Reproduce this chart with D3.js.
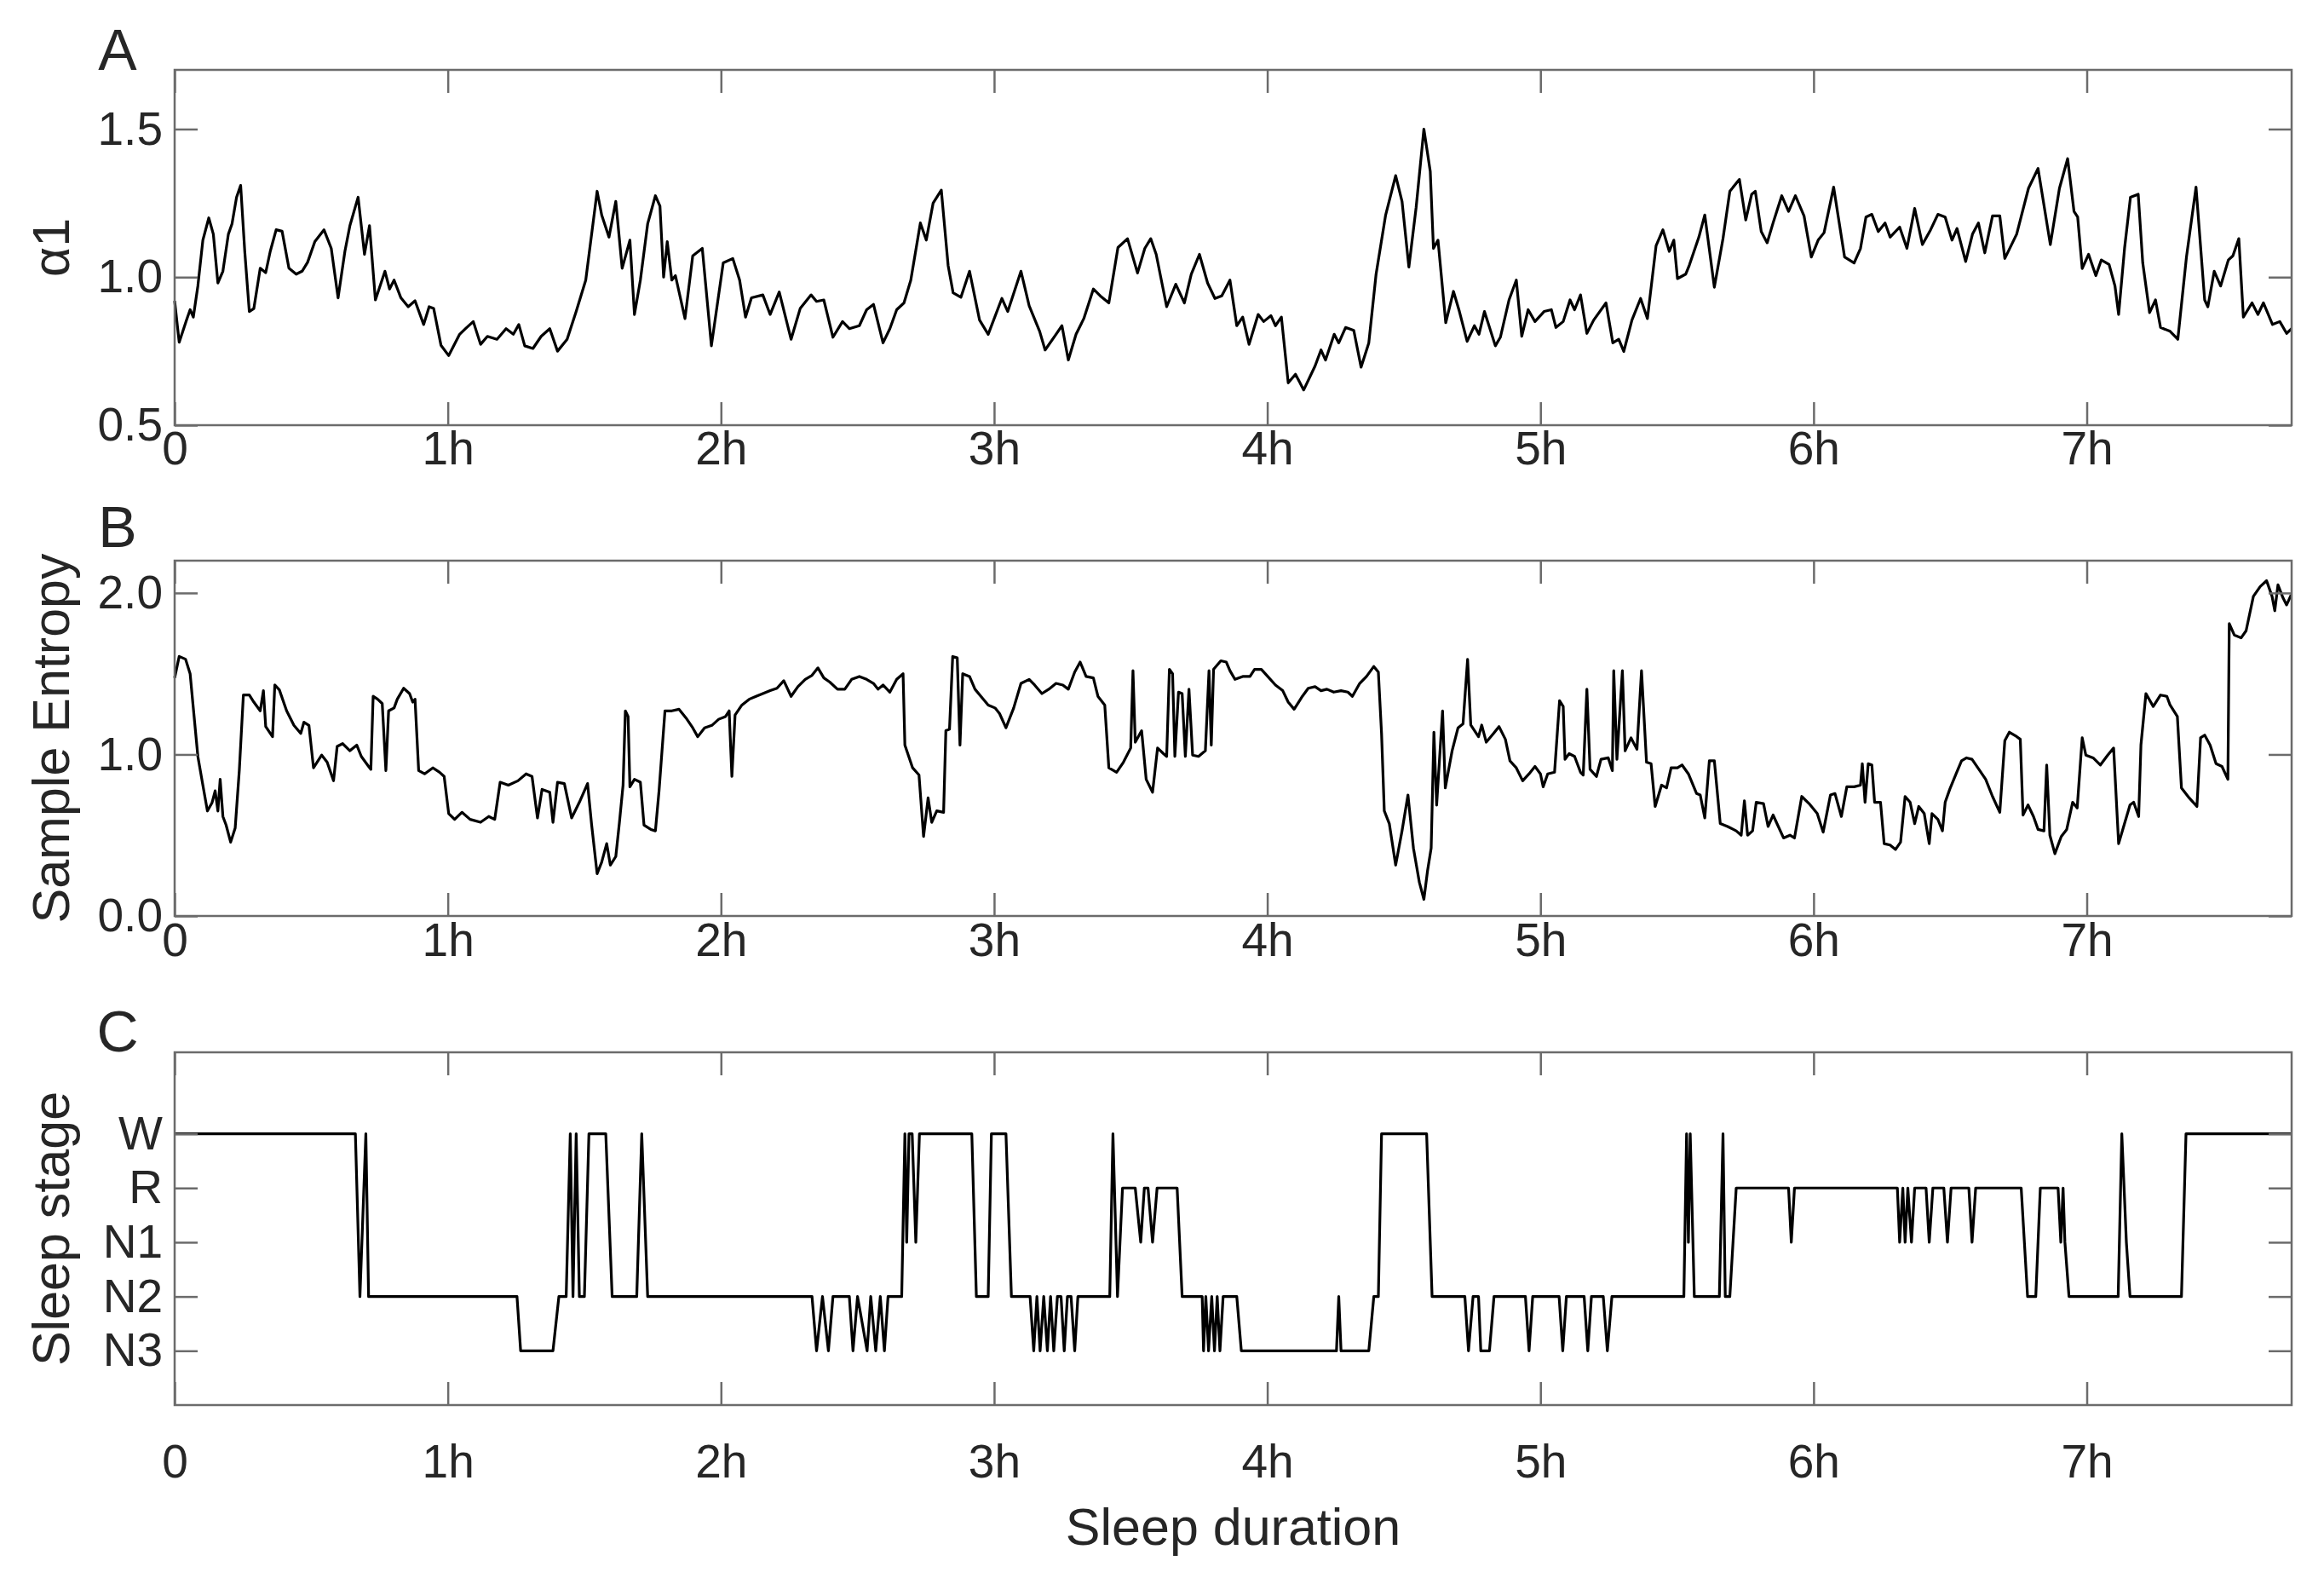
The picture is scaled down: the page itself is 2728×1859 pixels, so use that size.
<!DOCTYPE html>
<html>
<head>
<meta charset="utf-8">
<script src="https://cdn.jsdelivr.net/npm/d3@7"></script>
<style>
  body { margin: 0; background: #fff; }
  svg { display: block; }
  text { font-family: "Liberation Sans", Arial, Helvetica, sans-serif; fill: #262626; }
</style>
</head>
<body>
<svg id="chart" width="2728" height="1859"></svg>
<script>
// ---------------- DATA ----------------
const hourTicks = [0, 60, 120, 180, 240, 300, 360, 420];           // minutes
const hourLabels = ["0", "1h", "2h", "3h", "4h", "5h", "6h", "7h"];
const alphaTicks = [0.5, 1.0, 1.5];
const entropyTicks = [0.0, 1.0, 2.0];
const stageLevels = [1, 2, 3, 4, 5];
const stageNames = ["N3", "N2", "N1", "R", "W"];

// Panel A: DFA alpha1 (time in minutes, value)
const alphaTime = [0,1,2.6,3.4,4.1,5.1,6.2,7.5,8.5,9.5,10.6,11.8,12.6,13.6,14.5,15.4,16.4,17.4,18.8,20,21,22.3,23.6,25.1,26.7,28,29.2,30.8,32.8,34.4,35.9,37.4,38.5,40.3,41.7,42.8,44.1,46.2,47.2,48.2,49.7,51.3,52.8,54.7,55.9,56.9,58.5,60.2,62.6,63.9,65.6,67.2,68.7,70.8,72.8,74.4,75.6,76.9,78.7,80.5,82.4,84.1,86.2,88.2,90.3,92.8,93.8,95.4,96.9,98.3,100,101,102.3,103.9,105.6,106.6,107.4,108.2,109.2,110,112.1,113.8,115.9,117.9,120.5,122.6,124.1,125.4,126.7,129.2,130.8,132.8,135.4,137.4,139.8,141,142.6,144.6,146.7,148.2,150.4,152,153.5,155.6,157.1,158.6,160.2,161.7,163.8,165.1,166.6,168.4,169.9,171,172.7,174.6,176.8,178.7,181.7,183,185.9,187.7,190,191.2,193.6,194.9,196.3,198,199.7,201.8,203.3,205.2,207.2,209.3,211.5,213.1,214.4,215.6,217.9,219.9,221.8,223.3,225.1,226.9,228.5,230,231.8,233.3,234.6,236,238,239.2,240.8,241.8,243.1,244.6,246.2,248,250.5,251.8,252.8,254.7,255.7,257.2,259,260.6,262.3,263.9,266,268.2,269.6,271.1,272.7,274.4,275.8,276.5,277.5,279.2,280.9,282.2,283.9,285.5,286.5,287.7,290.1,291.2,293.1,294.7,295.9,297.3,298.8,300.8,302.4,303.4,305,306.5,307.5,308.8,310.2,311.7,314.4,315.9,317.2,318.3,320.1,322,323.5,325.4,326.9,328.3,329.3,330.1,331.9,332.7,334.8,336.1,338.2,340.1,341.6,343.7,345.1,346.4,347.2,348.5,349.8,351.1,353,354.5,356,357.9,359.5,361,362.3,364.4,366.8,368.9,370.3,371.5,372.8,374.2,375.7,376.8,378.9,380.5,382.2,383.9,385.7,387.3,388.9,390.4,391.5,393.4,394.9,396.2,397.6,399.3,400.9,402,404.6,407.2,409.3,412,414,415.8,417.2,418,419,420.4,422,423.2,424.9,426.2,427,428.3,429.6,431.3,432.3,433.8,435.1,436.2,438.3,440,441.9,444,445.9,446.6,448,449.4,451.1,452.1,453.4,454.4,456.3,457.6,458.8,460.8,462.4,463.9,465];
const alphaValues = [0.92,0.78,0.855,0.89,0.865,0.97,1.125,1.2,1.145,0.98,1.02,1.145,1.18,1.27,1.31,1.087,0.884,0.894,1.03,1.015,1.087,1.16,1.155,1.03,1.01,1.02,1.05,1.12,1.16,1.097,0.93,1.087,1.174,1.27,1.077,1.174,0.923,1.02,0.96,0.99,0.93,0.9,0.92,0.84,0.9,0.894,0.77,0.735,0.807,0.826,0.85,0.773,0.8,0.79,0.826,0.807,0.84,0.768,0.759,0.8,0.826,0.75,0.79,0.884,0.99,1.29,1.21,1.135,1.256,1.03,1.125,0.874,0.99,1.18,1.275,1.24,1.0,1.12,0.99,1.005,0.86,1.072,1.097,0.768,1.048,1.063,0.99,0.865,0.93,0.94,0.874,0.95,0.79,0.894,0.94,0.918,0.923,0.797,0.85,0.826,0.836,0.89,0.908,0.778,0.826,0.89,0.913,0.99,1.183,1.125,1.25,1.294,1.039,0.947,0.932,1.02,0.855,0.807,0.928,0.884,1.02,0.903,0.817,0.754,0.807,0.836,0.72,0.807,0.86,0.96,0.937,0.913,1.1,1.13,1.014,1.097,1.13,1.077,0.9,0.976,0.913,1.01,1.077,0.98,0.928,0.937,0.99,0.836,0.865,0.773,0.874,0.85,0.87,0.836,0.865,0.643,0.672,0.619,0.7,0.754,0.72,0.807,0.778,0.83,0.82,0.696,0.778,1.01,1.21,1.343,1.256,1.034,1.236,1.5,1.357,1.097,1.125,0.846,0.952,0.884,0.783,0.836,0.807,0.884,0.768,0.797,0.923,0.99,0.8,0.89,0.85,0.884,0.89,0.83,0.85,0.923,0.89,0.94,0.81,0.855,0.913,0.778,0.79,0.749,0.855,0.928,0.86,1.106,1.16,1.087,1.125,0.995,1.01,1.04,1.135,1.21,0.966,1.13,1.29,1.33,1.193,1.28,1.29,1.154,1.116,1.183,1.275,1.222,1.275,1.207,1.068,1.125,1.15,1.304,1.068,1.048,1.097,1.203,1.212,1.154,1.183,1.135,1.169,1.097,1.232,1.11,1.16,1.212,1.203,1.125,1.164,1.053,1.145,1.183,1.082,1.207,1.207,1.063,1.145,1.3,1.367,1.11,1.3,1.4,1.222,1.203,1.029,1.077,1.005,1.058,1.043,0.97,0.874,1.097,1.27,1.28,1.048,0.88,0.923,0.83,0.817,0.79,1.068,1.304,0.923,0.9,1.02,0.97,1.058,1.072,1.13,0.865,0.913,0.874,0.913,0.84,0.85,0.81,0.826];

// Panel B: Sample entropy (time in minutes, value)
const entropyTime = [0,1,2.4,3.4,4.1,5.1,6.2,7.2,8.2,8.9,9.5,10,10.6,11.3,12.3,13.3,14.2,15.1,16.4,17.4,18.8,19.5,20,21.5,22,23,24.6,26.2,27.7,28.4,29.5,30.5,32.3,33.5,34.9,35.7,36.9,38.5,40,41,42.6,43.1,43.6,44.6,45.6,46.4,47,48.2,48.9,50.3,51.6,52.3,52.8,53.6,54.9,56.7,58.2,59.2,60.2,61.5,63.1,64.9,67.2,69,70.3,71.5,73.3,75.4,77.2,78.5,79.7,80.7,82.4,83.1,84.1,85.6,87.2,88.9,90.7,91.6,92.8,93.8,94.9,95.7,96.9,97.7,98.5,99,99.6,100,101,102.3,103.1,104.6,105.6,106.4,107.7,109.2,110.8,112.3,113.8,114.9,116.4,118,119.5,121,121.8,122.4,123.1,124.6,126.2,127.7,129.2,130.8,132.3,133.8,135.4,136.9,138.5,140,141.3,142.6,143.9,145.6,147.2,148.7,150.4,152,153.5,154.5,155.6,157.1,158.6,160,160.4,162.1,163.5,164.5,165.5,166.3,167.4,168.9,169.4,170.2,170.9,171.9,172.5,173.1,174.6,175.8,177.1,178.7,180.2,181.2,182.6,184.3,185.9,187.7,188.9,190.5,192,193.6,195.1,196.3,197.7,198.9,200.2,201.8,202.8,204.3,205.2,206.9,208.4,210,210.5,211,212.4,213.4,214.8,215.9,217.2,217.9,218.5,219.2,219.7,220.5,221.3,222,222.8,223.6,224.9,226.4,227.2,227.7,228.2,229.8,231,231.8,232.9,234.6,236.2,237.2,238.7,240.1,241.8,243.4,244.6,245.9,247.7,249,250.5,251.8,253.1,254.6,256.2,257.7,258.7,260.3,261.8,263.4,264.4,265.1,265.7,266.8,268.2,269.6,270.9,272.1,273.4,274.4,275.2,276,276.6,277.2,278.5,279.1,280.6,281.9,283,284,284.7,286.4,287.1,288.1,289.7,290.9,292.3,293.3,294.7,296.1,297.5,298.8,300,300.6,301.6,303.1,304.2,305,305.4,306.3,307.5,308.8,309.4,310.2,310.9,312.3,313.3,314.9,315.8,316.1,316.8,318,318.6,319.9,321.2,322.2,323.3,324.3,325.2,326.6,327.7,328.7,330.1,331.1,332.5,334.3,335.1,336.1,337.1,338.2,339.5,341.1,343,344.1,344.8,345.5,346.6,347.4,349,350,351.1,352.1,353.4,354.8,355.8,357.4,359,360.8,362.1,363.7,364.7,366.1,367.3,368.9,370.3,370.7,371.3,372,372.8,373.4,374.7,375.5,376.8,378,379.1,380.1,381.2,382.2,383.1,384.3,385.4,386,387.3,388.3,388.9,389.9,391.3,392.5,393.6,394.8,396.5,397.8,399.3,400.9,402,403,404.6,405.4,406,407.1,408.3,409.3,410.6,411.2,411.9,413,414.4,415.6,416.9,417.9,419,419.8,421.4,423,424.6,425.9,427,428.2,429.5,430.3,431.4,431.9,433,434.6,436.2,437.6,438.3,439.9,440.8,442.5,444.2,445,445.9,447.1,448.4,449.7,451,451.3,452.4,453.9,455,456.6,458.1,459.5,460.7,461.3,462,463.1,463.9,464.9];
const entropyValues = [1.474,1.607,1.59,1.5,1.288,0.988,0.81,0.65,0.7,0.775,0.65,0.846,0.616,0.563,0.457,0.545,0.9,1.368,1.368,1.324,1.27,1.395,1.173,1.11,1.43,1.4,1.27,1.18,1.13,1.2,1.18,0.917,0.996,0.952,0.837,1.05,1.067,1.023,1.058,0.988,0.926,0.908,1.36,1.342,1.315,0.9,1.27,1.288,1.342,1.41,1.377,1.324,1.342,0.9,0.88,0.917,0.89,0.864,0.634,0.598,0.642,0.598,0.58,0.616,0.598,0.828,0.81,0.837,0.88,0.864,0.607,0.784,0.766,0.58,0.828,0.82,0.607,0.704,0.82,0.563,0.262,0.333,0.448,0.315,0.368,0.58,0.81,1.27,1.235,0.8,0.846,0.828,0.563,0.536,0.527,0.775,1.27,1.27,1.28,1.227,1.165,1.11,1.165,1.18,1.218,1.235,1.27,0.864,1.244,1.306,1.342,1.36,1.377,1.395,1.41,1.457,1.36,1.42,1.465,1.49,1.536,1.474,1.448,1.404,1.404,1.465,1.483,1.465,1.44,1.404,1.43,1.386,1.465,1.5,1.058,0.917,0.873,0.492,0.731,0.58,0.651,0.642,1.147,1.156,1.607,1.598,1.058,1.5,1.483,1.404,1.36,1.306,1.288,1.253,1.165,1.288,1.44,1.465,1.43,1.377,1.404,1.44,1.43,1.404,1.51,1.572,1.483,1.474,1.36,1.306,0.917,0.89,0.952,1.04,1.519,1.076,1.147,0.846,0.766,1.04,1.005,0.988,1.527,1.5,0.988,1.386,1.377,0.988,1.404,0.996,0.988,1.023,1.519,1.058,1.527,1.58,1.572,1.519,1.465,1.483,1.483,1.527,1.527,1.483,1.43,1.395,1.324,1.28,1.36,1.41,1.42,1.395,1.404,1.386,1.395,1.386,1.36,1.44,1.483,1.545,1.51,1.13,0.651,0.572,0.315,0.527,0.749,0.421,0.209,0.103,0.28,0.421,1.138,0.687,1.27,0.793,1.023,1.165,1.19,1.589,1.182,1.11,1.182,1.076,1.13,1.173,1.094,0.961,0.917,0.837,0.88,0.926,0.88,0.8,0.88,0.89,1.333,1.297,0.97,1.005,0.988,0.89,0.873,1.404,0.908,0.864,0.97,0.979,0.9,1.519,0.97,1.519,1.023,1.103,1.032,1.519,0.952,0.943,0.678,0.81,0.793,0.917,0.917,0.935,0.88,0.758,0.749,0.607,0.961,0.961,0.572,0.554,0.527,0.5,0.713,0.5,0.527,0.704,0.696,0.554,0.625,0.563,0.483,0.5,0.483,0.74,0.696,0.634,0.519,0.749,0.758,0.616,0.8,0.8,0.81,0.943,0.704,0.943,0.935,0.704,0.704,0.448,0.439,0.412,0.457,0.74,0.704,0.572,0.678,0.634,0.448,0.634,0.598,0.527,0.704,0.784,0.88,0.961,0.979,0.97,0.9,0.846,0.74,0.642,1.085,1.138,1.111,1.094,0.625,0.687,0.616,0.536,0.527,0.935,0.5,0.386,0.492,0.536,0.704,0.669,1.103,0.996,0.979,0.935,0.996,1.04,0.448,0.563,0.687,0.704,0.616,1.058,1.377,1.297,1.368,1.36,1.306,1.235,0.793,0.731,0.678,1.103,1.12,1.058,0.943,0.926,0.846,1.81,1.74,1.722,1.766,1.979,2.04,2.076,1.979,1.89,2.05,1.97,1.926,1.988];

// Panel C: hypnogram (time in minutes, stage level: 1=N3 .. 5=W)
const stageTime = [0,39.7,40.7,42,42.6,75.2,76,83.1,84.4,86,86.9,87.5,88.2,88.9,90,91,94.7,96.1,101.5,102.6,103.9,140,141,142.3,143.6,144.6,148.2,149,150,152.1,152.9,154,155,155.9,156.7,159.7,160.4,160.8,161.3,162,162.8,163.6,175.1,176.1,178.7,179.4,182.6,183.8,187.9,188.7,189.4,190.1,190.9,191.7,192.4,193.1,193.9,194.7,195.4,196.1,196.9,197.7,198.4,205.4,206.1,207.1,208.2,211,212.2,213,213.8,214.8,215.8,220.2,221.3,225.7,226,226.5,227.1,227.8,228.4,229,229.6,230.3,233.3,234.3,255.2,255.7,256.2,262.3,263.4,264.4,265.1,275,276.2,283.4,284.2,285.2,286.4,286.9,288.8,289.8,296.7,297.5,298.3,304.1,304.9,305.7,309.6,310.4,311.2,313.8,314.7,315.7,331.5,332.1,332.5,332.9,333.8,339.3,340.1,340.6,341.6,343,354.5,355.1,355.8,378.4,378.9,379.6,380.1,380.7,381.5,382.2,384.7,385.4,386.2,388.6,389.4,390.2,394.1,394.8,395.6,405.6,407,408.8,409.8,413.7,414.3,414.8,415.2,416.1,426.9,427.7,428.7,429.5,440.8,441.8,465];
const stageValues = [5,5,2,5,2,2,1,1,2,2,5,2,5,2,2,5,5,2,2,5,2,2,1,2,1,2,2,1,2,1,2,1,2,1,2,2,5,3,5,5,3,5,5,2,2,5,5,2,2,1,2,1,2,1,2,1,2,2,1,2,2,1,2,2,5,2,4,4,3,4,4,3,4,4,2,2,1,2,1,2,1,2,1,2,2,1,1,2,1,1,2,2,5,5,2,2,1,2,2,1,1,2,2,1,2,2,1,2,2,1,2,2,1,2,2,5,3,5,2,2,5,2,2,4,4,3,4,4,3,4,3,4,3,4,4,3,4,4,3,4,4,3,4,4,2,2,4,4,3,4,3,2,2,5,3,2,2,5,5];

// ---------------- LAYOUT ----------------
const svg = d3.select("#chart");
const plotLeft = 205, plotRight = 2690;
const tickLen = 27;
const axisColor = "#6b6b6b";
const tickFont = 55, labelFont = 61, letterFont = 68;

const x = d3.scaleLinear().domain([0, 465]).range([plotLeft, plotRight]);

const panels = [
  { top: 82, bottom: 499, domain: [0.5, 1.7], ticks: alphaTicks, fmt: d3.format(".1f"),
    letter: "A", letterY: 82, xPad: 7, label: "α1", t: alphaTime, v: alphaValues },
  { top: 658, bottom: 1075, domain: [0, 2.2], ticks: entropyTicks, fmt: d3.format(".1f"),
    letter: "B", letterY: 642, xPad: 8, label: "Sample Entropy", t: entropyTime, v: entropyValues },
  { top: 1235, bottom: 1649, domain: [0, 6.5], ticks: stageLevels, fmt: d => stageNames[stageLevels.indexOf(d)],
    letter: "C", letterY: 1234, xPad: 46, label: "Sleep stage", t: stageTime, v: stageValues }
];

function styleAxis(g) {
  g.select(".domain").remove();
  g.selectAll(".tick line").attr("stroke", axisColor).attr("stroke-width", 2.5);
  g.selectAll(".tick text").attr("font-size", tickFont).attr("fill", "#262626")
    .attr("font-family", '"Liberation Sans", Arial, sans-serif');
}

panels.forEach(p => {
  const y = d3.scaleLinear().domain(p.domain).range([p.bottom, p.top]);
  const g = svg.append("g");

  // data line
  const pts = p.t.map((t, i) => [t, p.v[i]]);
  const line = d3.line().x(d => x(d[0])).y(d => y(d[1]));
  g.append("path").datum(pts).attr("d", line)
    .attr("fill", "none").attr("stroke", "#000").attr("stroke-width", 3.2)
    .attr("stroke-linejoin", "round");

  // axes (inward ticks, mirrored)
  g.append("g").attr("transform", `translate(0,${p.bottom})`)
    .call(d3.axisBottom(x).tickValues(hourTicks).tickFormat((d, i) => hourLabels[i])
      .tickSize(-tickLen).tickPadding(p.xPad))
    .call(styleAxis);
  g.append("g").attr("transform", `translate(0,${p.top})`)
    .call(d3.axisTop(x).tickValues(hourTicks).tickFormat("").tickSize(-tickLen))
    .call(styleAxis);
  g.append("g").attr("transform", `translate(${plotLeft},0)`)
    .call(d3.axisLeft(y).tickValues(p.ticks).tickFormat(p.fmt).tickSize(-tickLen).tickPadding(14))
    .call(styleAxis);
  g.append("g").attr("transform", `translate(${plotRight},0)`)
    .call(d3.axisRight(y).tickValues(p.ticks).tickFormat("").tickSize(-tickLen))
    .call(styleAxis);

  // box
  g.append("rect").attr("x", plotLeft).attr("y", p.top)
    .attr("width", plotRight - plotLeft).attr("height", p.bottom - p.top)
    .attr("fill", "none").attr("stroke", axisColor).attr("stroke-width", 2.5);

  // y label
  g.append("text")
    .attr("transform", `translate(60,${(p.top + p.bottom) / 2}) rotate(-90)`)
    .attr("text-anchor", "middle").attr("dy", "0.35em")
    .attr("font-size", labelFont).text(p.label);

  // panel letter
  g.append("text").attr("x", 138).attr("y", p.letterY)
    .attr("text-anchor", "middle").attr("font-size", letterFont).text(p.letter);
});

svg.append("text").attr("x", (plotLeft + plotRight) / 2).attr("y", 1813)
  .attr("text-anchor", "middle").attr("font-size", labelFont).text("Sleep duration");
</script>
</body>
</html>
